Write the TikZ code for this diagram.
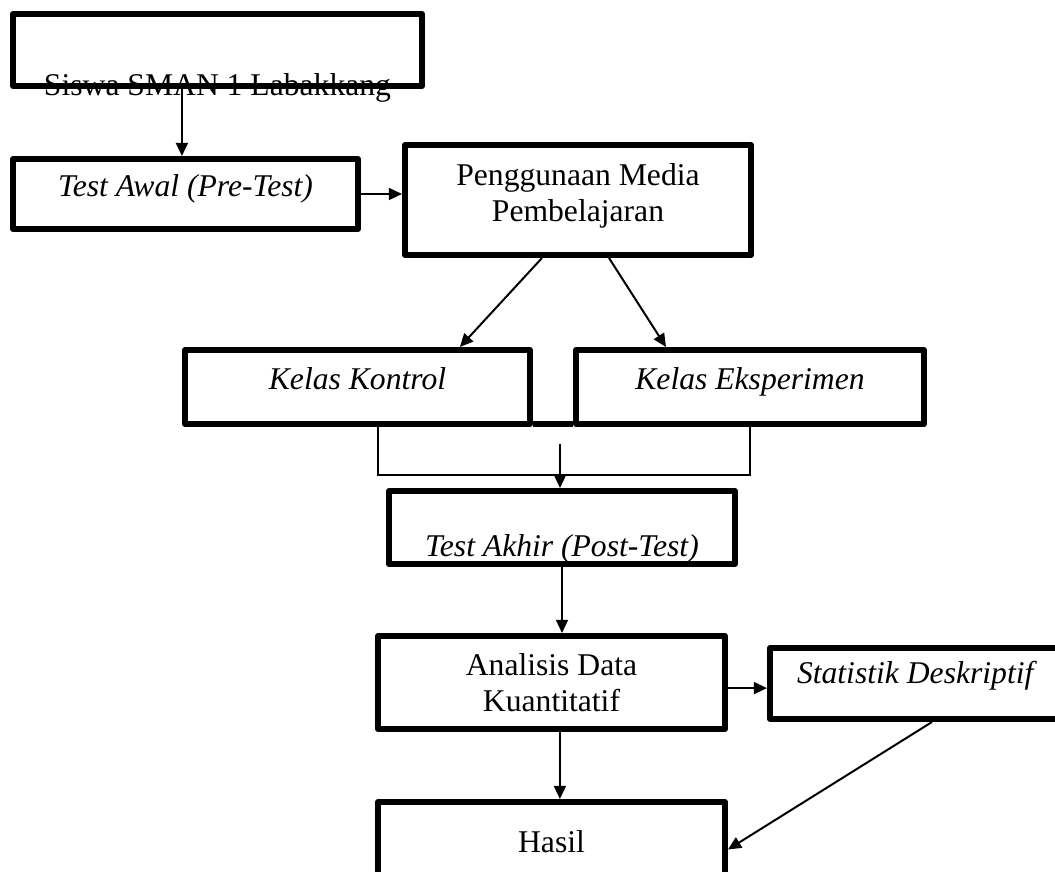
\documentclass[tikz,border=0pt]{standalone}
\usepackage{fontspec}
\setmainfont{Liberation Serif}
\usepackage{tikz}
\usetikzlibrary{positioning, arrows.meta, calc}

\begin{document}
\begin{tikzpicture}[
    box/.style={draw=black, line width=0.15cm, line join=round, minimum width=8.65cm, align=center, inner sep=0.2cm, text height=0.45cm, text depth=0.3cm},
    arr/.style={-{Triangle[length=0.33cm, width=0.3cm]}, line width=0.05cm, black},
    link/.style={line width=0.05cm, black},
    every node/.style={font=\fontsize{22.5pt}{26.3pt}\selectfont}
]
\useasboundingbox (0,0) rectangle (26.375,21.8);

% Siswa
\node[box, minimum width=10.225cm, minimum height=1.8cm] (siswa) at (5.4375, 20.55) {};
\node[anchor=base] (siswa-label) at ([yshift=-0.16cm]siswa.south) {Siswa SMAN 1 Labakkang};

% Pre-test and media
\node[box, minimum width=8.625cm, minimum height=1.75cm] (pre) at (4.6375, 16.95) {\textit{Test Awal (Pre-Test)}};
\node[box, minimum height=2.75cm, text height=1.4cm, text depth=0.3cm] (media) at (14.45, 16.8) {Penggunaan Media\\Pembelajaran};
\draw[arr] ([xshift=-0.89cm]siswa.south) -- ([xshift=-0.89cm]siswa.south |- pre.north);
\draw[arr] (pre.east) -- (pre.east -| media.west);

% Kelas
\node[box, minimum width=8.625cm, minimum height=1.85cm] (kontrol) at (8.9375, 12.125) {\textit{Kelas Kontrol}};
\node[box, minimum width=8.7cm, minimum height=1.85cm] (eksperimen) at (18.75, 12.125) {\textit{Kelas Eksperimen}};
\draw[line width=0.15cm] ([yshift=0.075cm]kontrol.south east) -- ([yshift=0.075cm]eksperimen.south west);
\draw[arr] ([xshift=-0.9cm]media.south) -- ([xshift=2.56cm]kontrol.north);
\draw[arr] ([xshift=0.775cm]media.south) -- ([xshift=-2.1cm]eksperimen.north);
\draw[link] ([xshift=0.51cm]kontrol.south) -- ++(0,-1.2) -| (eksperimen.south);

% Post-test
\coordinate (fork) at (14, 10.7);
\node[box, minimum height=1.825cm, inner ysep=0pt, text height=1.6cm, text depth=0.125cm] (post) at (14.05, 8.6125) {\textit{Test Akhir (Post-Test)}};
\draw[arr] (fork) -- (fork |- post.north);

% Analisis
\node[box, minimum width=8.675cm, minimum height=2.325cm, text height=1.65cm, text depth=0.175cm] (analisis) at (13.7875, 4.7375) {Analisis Data\\Kuantitatif};
\node[box, minimum width=7.35cm, minimum height=1.775cm, text depth=0.45cm] (stat) at (22.925, 4.7125) {\textit{Statistik Deskriptif}};
\node[box, minimum width=8.675cm, minimum height=2.375cm] (hasil) at (13.7875, 0.5625) {Hasil};
\draw[arr] (post.south) -- (post.south |- analisis.north);
\draw[arr] ([yshift=-0.14cm]analisis.east) -- ([yshift=-0.14cm]analisis.east -| stat.west);
\draw[arr] ([xshift=0.21cm]analisis.south) -- ([xshift=0.21cm]analisis.south |- hasil.north);
\draw[arr] ([xshift=0.375cm]stat.south) -- (hasil.east);

\end{tikzpicture}
\end{document}
